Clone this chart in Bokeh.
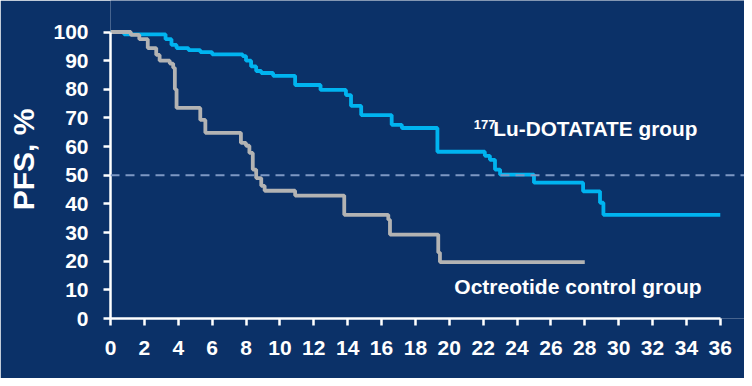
from bokeh.plotting import figure
from bokeh.models import Range1d, FixedTicker, Span, Label
from bokeh.embed import file_html
from bokeh.resources import INLINE

# Kaplan-Meier PFS data (months, %)
lu_months = [0, 0.8, 3.25, 3.6, 3.9, 4.6, 5.3, 6.0, 7.8, 8.0, 8.3, 8.6, 8.9, 9.6,
             10.9, 12.4, 13.9, 14.2, 14.8, 16.6, 17.2, 19.3, 22.1, 22.4, 22.7,
             23.0, 25.0, 27.9, 28.9, 29.1, 36.0]
lu_pfs = [100, 99.2, 97.5, 95.5, 94.4, 93.7, 93.0, 92.2, 91.6, 90.0, 88.0, 86.4,
          85.7, 84.7, 81.5, 79.8, 78.0, 74.2, 71.0, 67.6, 66.5, 58.2, 56.8, 55.4,
          52.0, 50.2, 47.4, 44.4, 40.4, 36.2, 36.2]

oct_months = [0, 1.2, 1.7, 2.2, 2.7, 2.9, 3.5, 3.7, 3.8, 3.9, 5.3, 5.6, 7.7, 8.0,
              8.2, 8.4, 8.6, 8.9, 9.1, 10.9, 13.8, 16.4, 16.5, 19.35, 19.45, 28.0]
oct_pfs = [100, 99, 97.5, 94.4, 92, 90, 89, 87.5, 80, 73.5, 69.3, 64.8, 61.3, 60.3,
           57.8, 52, 49, 46.3, 44.6, 42.9, 36.2, 34.5, 29.3, 23.0, 19.7, 19.7]

x_ticks = list(range(0, 37, 2))
y_ticks = list(range(0, 101, 10))
median_level = 50

BG = "#0b3168"
CYAN = "#00b4f0"
GRAY = "#b3b3b3"
FONT = "Liberation Sans"

p = figure(width=744, height=378, output_backend="svg", toolbar_location=None,
           x_range=Range1d(0, 37.43), y_range=Range1d(0, 111.0),
           min_border_left=110, min_border_right=0, min_border_top=0,
           min_border_bottom=60)
p.background_fill_color = BG
p.border_fill_color = BG
p.outline_line_color = None
p.grid.visible = False

p.add_layout(Span(location=median_level, dimension="width", line_color="#7d98c4",
                  line_width=2, line_dash="9 6"))

p.step(lu_months, lu_pfs, mode="after", line_color=CYAN, line_width=3.8)
p.step(oct_months, oct_pfs, mode="after", line_color=GRAY, line_width=3.8)

for ax in (p.xaxis[0], p.yaxis[0]):
    ax.axis_line_color = "white"
    ax.axis_line_width = 2.5
    ax.major_tick_line_color = "white"
    ax.major_tick_line_width = 2.5
    ax.major_tick_out = 7
    ax.major_tick_in = 0
    ax.minor_tick_line_color = None
    ax.major_label_text_color = "white"
    ax.major_label_text_font = FONT
    ax.major_label_text_font_style = "bold"
    ax.major_label_text_font_size = "21px"

p.yaxis.major_label_standoff = 15
p.xaxis.major_label_standoff = 15
p.xaxis.ticker = FixedTicker(ticks=x_ticks)
p.yaxis.ticker = FixedTicker(ticks=y_ticks)
p.xaxis.bounds = (0, 36)
p.yaxis.bounds = (0, 100)

p.yaxis.axis_label = "PFS, %"
p.yaxis.axis_label_text_color = "white"
p.yaxis.axis_label_text_font = FONT
p.yaxis.axis_label_text_font_style = "bold"
p.yaxis.axis_label_text_font_size = "30px"
p.yaxis.axis_label_standoff = 10

p.add_layout(Label(x=21.45, y=66.0, text="177", text_color="white", text_font=FONT,
                   text_font_style="bold", text_font_size="13px"))
p.add_layout(Label(x=22.6, y=62.4, text="Lu-DOTATATE group", text_color="white",
                   text_font=FONT, text_font_style="bold", text_font_size="20.8px"))
p.add_layout(Label(x=20.3, y=7.0, text="Octreotide control group", text_color="white",
                   text_font=FONT, text_font_style="bold", text_font_size="21px"))

open("out.html", "w").write(file_html(p, INLINE))
